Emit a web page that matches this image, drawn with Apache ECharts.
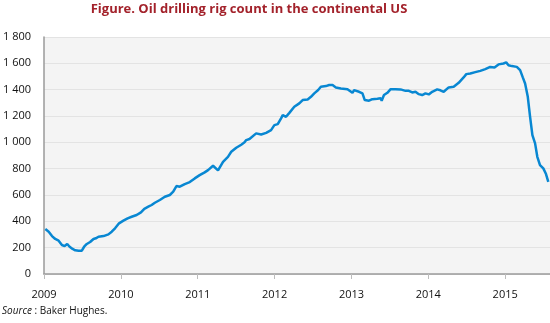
<!DOCTYPE html>
<html>
<head>
<meta charset="utf-8">
<script src="https://cdn.jsdelivr.net/npm/echarts@6/dist/echarts.min.js"></script>
<style>
html,body{margin:0;padding:0;background:#fff;}
#chart{width:550px;height:323px;}
</style>
</head>
<body>
<div id="chart"></div>
<script>
var titleText = 'Figure. Oil drilling rig count in the continental US';
var sourceLabel = 'Source';
var sourceText = ' : Baker Hughes.';
var yTicks = [0, 200, 400, 600, 800, 1000, 1200, 1400, 1600, 1800];
var xTicks = [2009, 2010, 2011, 2012, 2013, 2014, 2015];

// dates as decimal years
var dates = [
2009.017,2009.061,2009.104,2009.146,2009.190,2009.233,2009.268,2009.302,2009.333,2009.372,
2009.406,2009.450,2009.492,2009.522,2009.557,2009.600,2009.644,2009.674,2009.709,2009.774,
2009.838,2009.881,2009.924,2009.976,2010.033,2010.088,2010.140,2010.205,2010.261,2010.305,
2010.357,2010.400,2010.442,2010.507,2010.572,2010.637,2010.681,2010.723,2010.766,2010.831,
2010.896,2010.961,2011.025,2011.090,2011.134,2011.199,2011.264,2011.329,2011.393,2011.436,
2011.501,2011.566,2011.609,2011.631,2011.673,2011.695,2011.760,2011.825,2011.890,2011.954,
2011.997,2012.041,2012.084,2012.106,2012.149,2012.192,2012.256,2012.321,2012.365,2012.430,
2012.473,2012.516,2012.567,2012.602,2012.667,2012.710,2012.754,2012.797,2012.862,2012.948,
2013.013,2013.034,2013.099,2013.143,2013.173,2013.228,2013.272,2013.337,2013.380,2013.393,
2013.423,2013.467,2013.510,2013.574,2013.639,2013.704,2013.747,2013.791,2013.833,2013.876,
2013.920,2013.963,2014.006,2014.050,2014.115,2014.157,2014.200,2014.265,2014.330,2014.395,
2014.459,2014.494,2014.546,2014.611,2014.676,2014.741,2014.805,2014.827,2014.861,2014.913,
2014.978,2015.013,2015.043,2015.087,2015.151,2015.194,2015.229,2015.259,2015.294,2015.324,
2015.354,2015.389,2015.418,2015.453,2015.496,2015.531,2015.561
];
var rigs = [
341,321,288,266,253,220,212,228,207,190,
180,177,177,207,228,243,266,271,283,288,
301,321,347,385,405,423,435,448,468,495,
511,524,541,562,587,600,625,668,663,683,
698,726,751,772,789,822,787,852,890,928,
959,982,1000,1017,1025,1030,1068,1060,1072,1093,
1131,1138,1182,1207,1194,1224,1270,1296,1321,1326,
1346,1372,1397,1422,1427,1435,1435,1417,1409,1404,
1376,1397,1384,1372,1321,1316,1328,1331,1334,1316,
1359,1376,1404,1404,1402,1391,1391,1379,1384,1366,
1359,1372,1364,1384,1402,1395,1384,1417,1422,1452,
1493,1518,1523,1533,1543,1556,1573,1586,1569,1592,
1599,1607,1586,1579,1573,1548,1493,1447,1346,1194,
1055,992,890,827,802,759,700
];

var seriesData = dates.map(function (d, i) { return [d, rigs[i]]; });

function fmtThousands(v) {
  var s = String(Math.round(v));
  return s.replace(/\B(?=(\d{3})+(?!\d))/g, ' ');
}

var chart = echarts.init(document.getElementById('chart'), null, {renderer: 'canvas'});
var font = '"Open Sans", "Noto Sans", sans-serif';
chart.setOption({
  animation: false,
  backgroundColor: '#ffffff',
  textStyle: {fontFamily: font},
  grid: {
    left: 42, right: 0, top: 37, bottom: 49,
    show: true, backgroundColor: '#f4f4f4', borderWidth: 0
  },
  graphic: [
    {
      type: 'text', x: 249, y: 3,
      style: {
        text: titleText,
        fill: '#a3222b',
        align: 'center',
        font: 'bold 13px "Liberation Sans Narrow", "Open Sans", sans-serif'
      }
    },
    {
      type: 'text', left: 2, top: 306,
      style: {
        text: '{i|' + sourceLabel + '}{n|' + sourceText + '}',
        rich: {
          i: {fontStyle: 'italic', fontSize: 10, fontFamily: font, fill: '#111'},
          n: {fontSize: 10, fontFamily: font, fill: '#111'}
        }
      }
    }
  ],
  xAxis: {
    type: 'value',
    min: xTicks[0],
    max: 2015.583,
    interval: 1,
    axisLine: {show: true, lineStyle: {color: '#9a9a9a', width: 1.5}},
    axisTick: {show: true, length: 5, lineStyle: {color: '#bdbdbd'}},
    axisLabel: {
      color: '#111', fontSize: 11, margin: 15, fontFamily: font,
      showMaxLabel: false,
      formatter: function (v) { return xTicks.indexOf(v) >= 0 ? String(v) : ''; }
    },
    splitLine: {show: false}
  },
  yAxis: {
    type: 'value',
    min: yTicks[0],
    max: yTicks[yTicks.length - 1],
    interval: 200,
    axisLine: {show: true, lineStyle: {color: '#9a9a9a', width: 1.5}},
    axisTick: {show: false},
    axisLabel: {
      color: '#111', fontSize: 11, margin: 13, fontFamily: font,
      formatter: function (v) { return fmtThousands(v); }
    },
    splitLine: {show: true, lineStyle: {color: '#e3e3e3', width: 1}}
  },
  series: [{
    type: 'line',
    data: seriesData,
    showSymbol: false,
    symbol: 'none',
    lineStyle: {color: '#0887d2', width: 2.5},
    z: 3
  }]
});
</script>
</body>
</html>
